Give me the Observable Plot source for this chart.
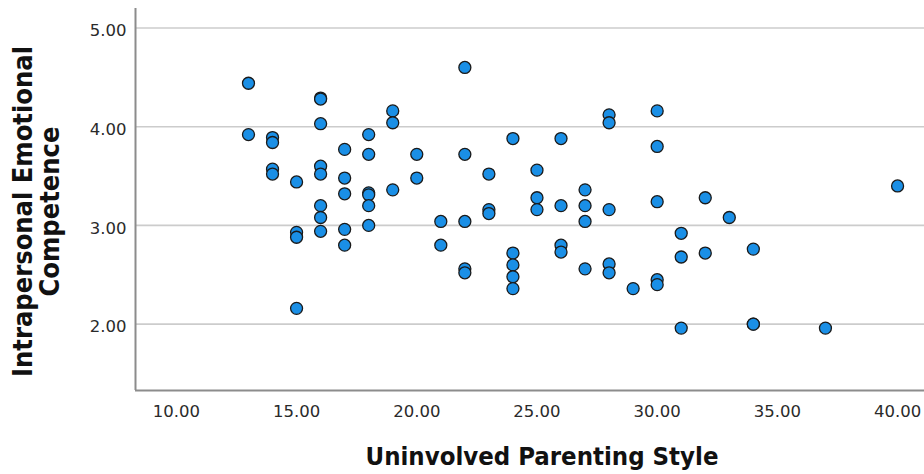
<!DOCTYPE html>
<html>
<head>
<meta charset="utf-8">
<script src="https://cdn.jsdelivr.net/npm/d3@7"></script>
<script src="https://cdn.jsdelivr.net/npm/@observablehq/plot@0.6"></script>
<style>
  html, body { margin: 0; padding: 0; background: #fff; }
  #chart svg { display: block; }
</style>
</head>
<body>
<div id="chart"></div>
<script>
// Uninvolved Parenting Style scores (x) and Intrapersonal Emotional Competence (y)
const parenting = [
  13, 13,
  14, 14, 14, 14,
  15, 15, 15, 15,
  16, 16, 16, 16, 16, 16, 16, 16,
  17, 17, 17, 17, 17,
  18, 18, 18, 18, 18, 18,
  19, 19, 19,
  20, 20,
  21, 21,
  22, 22, 22, 22, 22,
  23, 23, 23,
  24, 24, 24, 24, 24,
  25, 25, 25,
  26, 26, 26, 26,
  27, 27, 27, 27,
  28, 28, 28, 28, 28,
  29,
  30, 30, 30, 30, 30,
  31, 31, 31,
  32, 32,
  33,
  34, 34, 34,
  37,
  40
];
const competence = [
  4.44, 3.92,
  3.89, 3.84, 3.57, 3.52,
  3.44, 2.93, 2.88, 2.16,
  4.29, 4.28, 4.03, 3.60, 3.52, 3.20, 3.08, 2.94,
  3.77, 3.48, 3.32, 2.96, 2.80,
  3.92, 3.72, 3.33, 3.31, 3.20, 3.00,
  4.16, 4.04, 3.36,
  3.72, 3.48,
  3.04, 2.80,
  4.60, 3.72, 3.04, 2.56, 2.52,
  3.52, 3.16, 3.12,
  3.88, 2.72, 2.60, 2.48, 2.36,
  3.56, 3.28, 3.16,
  3.88, 3.20, 2.80, 2.73,
  3.36, 3.20, 3.04, 2.56,
  4.12, 4.04, 3.16, 2.61, 2.52,
  2.36,
  4.16, 3.80, 3.24, 2.45, 2.40,
  2.92, 2.68, 1.96,
  3.28, 2.72,
  3.08,
  2.76, 2.00, 2.00,
  1.96,
  3.40
];
const xTicks = [10, 15, 20, 25, 30, 35, 40];
const yTicks = [2, 3, 4, 5];
const xTitle = "Uninvolved Parenting Style";
const yTitle = "Intrapersonal Emotional\nCompetence";

const points = parenting.map((x, i) => ({x, y: competence[i]}));
const xDomain = [8.3, 41.12];
const yDomain = [1.328, 5.197];
const titleFont = "'DejaVu Sans Condensed', 'DejaVu Sans', sans-serif";

const chart = Plot.plot({
  width: 924,
  height: 474,
  marginLeft: 135,
  marginRight: 0,
  marginTop: 8,
  marginBottom: 84,
  style: {fontFamily: "'DejaVu Sans', sans-serif", background: "#fff"},
  x: {domain: xDomain},
  y: {domain: yDomain},
  marks: [
    Plot.gridY(yTicks, {stroke: "#cccccc", strokeOpacity: 1, strokeWidth: 1.6}),
    Plot.ruleX([xDomain[0]], {stroke: "#8c8c8c", strokeWidth: 2}),
    Plot.ruleY([yDomain[0]], {stroke: "#8c8c8c", strokeWidth: 2}),
    Plot.axisX(xTicks, {tickSize: 0, tickPadding: 15, tickFormat: d => d.toFixed(2), fontSize: 16.5, fill: "#2a2a2a", label: null}),
    Plot.axisY(yTicks, {tickSize: 0, tickPadding: 9, dy: 3, tickFormat: d => d.toFixed(2), fontSize: 16.5, fill: "#2a2a2a", label: null}),
    Plot.dot(points, {x: "x", y: "y", r: 6, fill: "#1a8fe6", stroke: "#1a1a1a", strokeWidth: 1.3, fillOpacity: 1}),
    Plot.text([xTitle], {frameAnchor: "bottom", textAnchor: "middle", dx: 12, dy: 66, lineAnchor: "middle", fontSize: 25.5, fontWeight: "bold", fill: "#111", fontFamily: titleFont, fontStretch: "condensed"}),
    Plot.text([yTitle], {frameAnchor: "left", textAnchor: "middle", dx: -99, dy: 12, rotate: -90, lineAnchor: "middle", lineHeight: 1.0, fontSize: 27, fontWeight: "bold", fill: "#111", fontFamily: titleFont, fontStretch: "condensed"})
  ]
});
document.getElementById("chart").appendChild(chart);
</script>
</body>
</html>
